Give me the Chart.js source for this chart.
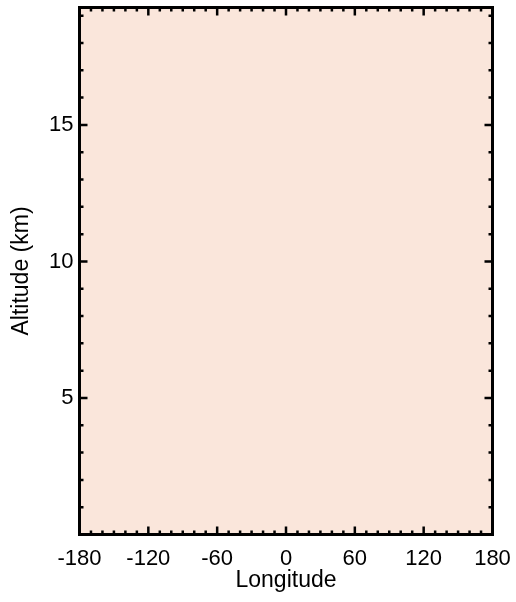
<!DOCTYPE html>
<html>
<head>
<meta charset="utf-8">
<script src="https://cdn.jsdelivr.net/npm/chart.js@4"></script>
<style>
  html, body { margin: 0; padding: 0; background: #ffffff; }
  #wrap { width: 516px; height: 602px; }
</style>
</head>
<body>
<div id="wrap"><canvas id="chart" width="516" height="602"></canvas></div>
<script>
// axis ranges and ticks
const xRange = [-180, 180];
const yRange = [0, 19.3];
const xTickValues = [-180, -120, -60, 0, 60, 120, 180];
const xTickLabels = ['-180', '-120', '-60', '0', '60', '120', '180'];
const yTickValues = [5, 10, 15];
const yTickLabels = ['5', '10', '15'];
const xMinorStep = 10;
const yMinorStep = 1;
// empty field, just the background colour
const fieldColor = '#fae6db';

const FONT = "'Liberation Sans', Arial, sans-serif";

// Plot frame: fill, border and inward ticks on all four sides
const framePlugin = {
    id: 'frame',
    beforeDraw(chart) {
        const a = chart.chartArea;
        const ctx = chart.ctx;
        ctx.save();
        ctx.fillStyle = fieldColor;
        ctx.fillRect(a.left, a.top, a.right - a.left, a.bottom - a.top);
        ctx.restore();
    },
    afterDraw(chart) {
        const a = chart.chartArea;
        const ctx = chart.ctx;
        const xs = chart.scales.x, ys = chart.scales.y;
        ctx.save();
        ctx.strokeStyle = '#000';
        ctx.lineWidth = 2.5;
        ctx.beginPath();
        // x ticks (bottom and top)
        for (let v = xRange[0]; v <= xRange[1]; v += xMinorStep) {
            const len = xTickValues.includes(v) ? 8 : 4;
            const px = xs.getPixelForValue(v);
            ctx.moveTo(px, a.bottom); ctx.lineTo(px, a.bottom - len);
            ctx.moveTo(px, a.top); ctx.lineTo(px, a.top + len);
        }
        // y ticks (left and right)
        for (let v = Math.ceil(yRange[0]); v <= yRange[1]; v += yMinorStep) {
            const len = yTickValues.includes(v) ? 8 : 4;
            const py = ys.getPixelForValue(v);
            ctx.moveTo(a.left, py); ctx.lineTo(a.left + len, py);
            ctx.moveTo(a.right, py); ctx.lineTo(a.right - len, py);
        }
        ctx.stroke();
        ctx.lineWidth = 3;
        ctx.strokeRect(a.left, a.top, a.right - a.left, a.bottom - a.top);
        ctx.restore();
    }
};

new Chart(document.getElementById('chart'), {
    type: 'scatter',
    data: { datasets: [{ data: [], showLine: false }] },
    options: {
        responsive: false,
        animation: false,
        layout: { padding: { left: 0, top: 7.5, right: 23.5, bottom: 0 } },
        plugins: { legend: { display: false }, tooltip: { enabled: false } },
        scales: {
            x: {
                type: 'linear',
                min: xRange[0], max: xRange[1],
                afterBuildTicks(s) { s.ticks = xTickValues.map(v => ({ value: v })); },
                afterFit(s) { s.height = 67.5; s.paddingLeft = 0; s.paddingRight = 0; },
                grid: { display: false, drawTicks: false },
                border: { display: false },
                ticks: {
                    padding: 11,
                    color: '#000',
                    font: { family: FONT, size: 22 },
                    maxRotation: 0,
                    autoSkip: false,
                    callback(v) { return xTickLabels[xTickValues.indexOf(v)]; }
                },
                title: {
                    display: true, text: 'Longitude', color: '#000',
                    font: { family: FONT, size: 23 },
                    padding: { top: 0, bottom: 8 }
                }
            },
            y: {
                type: 'linear',
                min: yRange[0], max: yRange[1],
                afterBuildTicks(s) { s.ticks = yTickValues.map(v => ({ value: v })); },
                afterFit(s) { s.width = 79.5; s.paddingTop = 0; s.paddingBottom = 0; },
                grid: { display: false, drawTicks: false },
                border: { display: false },
                ticks: {
                    padding: 6,
                    color: '#000',
                    font: { family: FONT, size: 22 },
                    autoSkip: false,
                    callback(v) { return yTickLabels[yTickValues.indexOf(v)]; }
                },
                title: {
                    display: true, text: 'Altitude (km)', color: '#000',
                    font: { family: FONT, size: 23 },
                    padding: { top: 8, bottom: 0 }
                }
            }
        }
    },
    plugins: [framePlugin]
});
</script>
</body>
</html>
